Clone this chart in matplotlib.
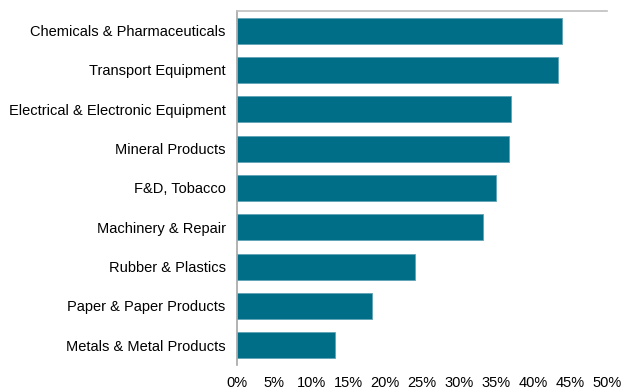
import numpy as np
import matplotlib.pyplot as plt
from matplotlib.ticker import FuncFormatter

plt.rcParams['font.family'] = ['Liberation Sans', 'DejaVu Sans']

sectors = ["Chemicals & Pharmaceuticals", "Transport Equipment",
           "Electrical & Electronic Equipment", "Mineral Products",
           "F&D, Tobacco", "Machinery & Repair", "Rubber & Plastics",
           "Paper & Paper Products", "Metals & Metal Products"]
shares = [44.0, 43.4, 37.1, 36.8, 35.0, 33.3, 24.1, 18.2, 13.2]

fig = plt.figure(figsize=(6.23, 3.89), dpi=100)
ax = fig.add_axes([0.381, 0.062, 0.593, 0.910])

y = np.arange(len(sectors))
ax.barh(y, shares, height=0.66, color="#006E87", edgecolor="#5FA3B5", linewidth=0.6)
ax.set_yticks(y)
ax.set_yticklabels(sectors, fontsize=10.5)
ax.set_ylim(len(sectors) - 0.5, -0.5)
ax.set_xlim(0, 50)
ax.set_xticks(np.arange(0, 51, 5))
ax.xaxis.set_major_formatter(FuncFormatter(lambda v, p: "%d%%" % v))
ax.tick_params(axis="x", labelsize=10.5, length=0, pad=8)
ax.tick_params(axis="y", length=0, pad=8.5)

ax.spines["bottom"].set_visible(False)
ax.spines["right"].set_visible(False)
ax.spines["top"].set_color("#BFBFBF")
ax.spines["left"].set_color("#A6A6A6")
ax.spines["top"].set_linewidth(1.2)
ax.spines["left"].set_linewidth(1.2)

fig.savefig("out.png", dpi=100)
